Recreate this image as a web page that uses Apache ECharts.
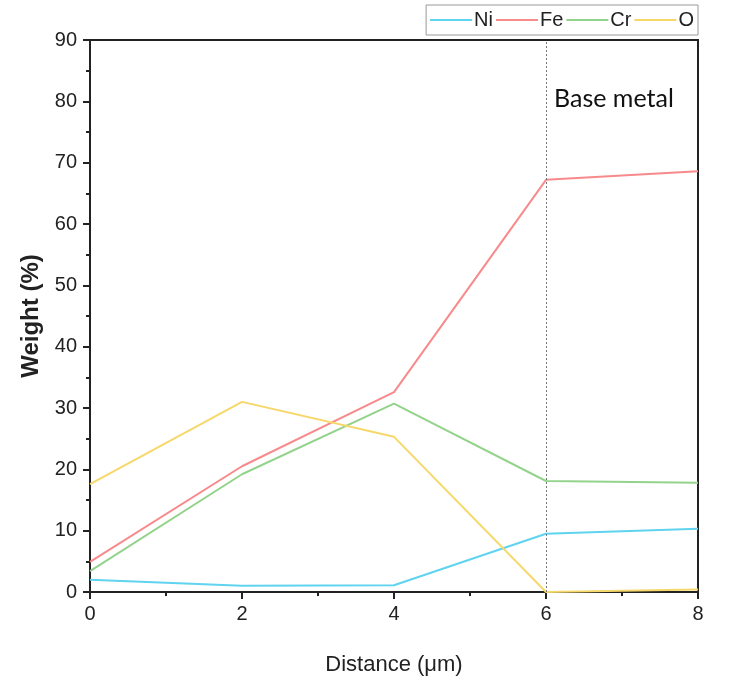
<!DOCTYPE html>
<html><head><meta charset="utf-8">
<script src="https://cdn.jsdelivr.net/npm/echarts@6/dist/echarts.min.js"></script>
<style>html,body{margin:0;padding:0;background:#fff}#c{width:730px;height:684px}</style>
</head><body><div id="c"></div>
<script>
const distance = [0, 2, 4, 6, 8];
const ni = [2.0, 1.0, 1.1, 9.5, 10.3];
const fe = [4.9, 20.5, 32.6, 67.2, 68.6];
const cr = [3.4, 19.2, 30.7, 18.1, 17.8];
const o  = [17.6, 31.0, 25.3, 0.0, 0.4];
const seriesNames = ['Ni', 'Fe', 'Cr', 'O'];
const colors = ['#5fd3ef', '#f88a8c', '#93d38b', '#f6d86a'];
const boundaryX = 6;
const annotation = 'Base metal';

const pairs = v => distance.map((d, i) => [d, v[i]]);
const chart = echarts.init(document.getElementById('c'));
const font = '"Liberation Sans", Arial, sans-serif';
const series = [ni, fe, cr, o].map((v, i) => ({
  name: seriesNames[i], type: 'line', data: pairs(v), symbol: 'none',
  lineStyle: { width: 2, color: colors[i] }, itemStyle: { color: colors[i] },
  z: 3
}));
series[0].markLine = {
  silent: true, symbol: 'none', label: { show: false },
  lineStyle: { type: [2, 2], color: '#777', width: 1 },
  data: [{ xAxis: boundaryX }]
};
chart.setOption({
  animation: false,
  grid: { left: 90, right: 32, top: 40, bottom: 92, show: true, borderColor: '#222', borderWidth: 2 },
  legend: {
    right: 32, top: 5, icon: 'rect', itemWidth: 42, itemHeight: 2, itemGap: 3,
    data: seriesNames,
    borderColor: '#999', borderWidth: 1, padding: [5, 4, 5, 4],
    textStyle: { fontSize: 20, color: '#222', fontFamily: font, padding: [0, 0, 0, -3] }
  },
  xAxis: {
    type: 'value', min: 0, max: 8, interval: 2,
    name: 'Distance (\u03bcm)', nameLocation: 'middle', nameGap: 62,
    nameTextStyle: { fontSize: 22, color: '#222', fontFamily: font },
    axisLine: { show: true, lineStyle: { color: '#222', width: 2 } },
    axisTick: { show: true, length: 7, lineStyle: { color: '#222', width: 2 } },
    minorTick: { show: true, splitNumber: 2, length: 4, lineStyle: { color: '#222', width: 2 } },
    splitLine: { show: false },
    axisLabel: { fontSize: 20, color: '#222', fontFamily: font, margin: 12 }
  },
  yAxis: {
    type: 'value', min: 0, max: 90, interval: 10,
    name: 'Weight (%)', nameLocation: 'middle', nameGap: 40,
    nameTextStyle: { fontSize: 24, fontWeight: 'bold', color: '#222', fontFamily: font },
    axisLine: { show: true, lineStyle: { color: '#222', width: 2 } },
    axisTick: { show: true, length: 7, lineStyle: { color: '#222', width: 2 } },
    minorTick: { show: true, splitNumber: 2, length: 4, lineStyle: { color: '#222', width: 2 } },
    splitLine: { show: false },
    axisLabel: { fontSize: 20, color: '#222', fontFamily: font, margin: 13 }
  },
  graphic: [{
    type: 'text', left: 554, top: 86,
    style: { text: annotation, fontSize: 25, fill: '#111', fontFamily: 'Lato, "Open Sans", sans-serif' }
  }],
  series: series
});
</script></body></html>
